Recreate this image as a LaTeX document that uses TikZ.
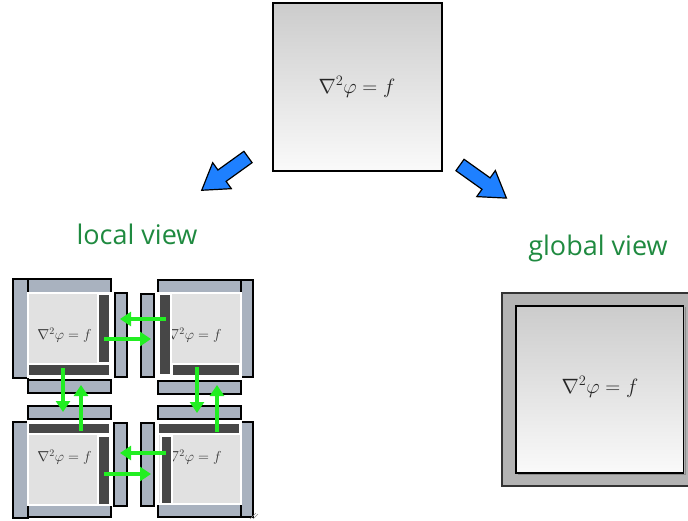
\documentclass[tikz,border=0pt]{standalone}
\usepackage{fontspec}
\setsansfont{Open Sans}
\usetikzlibrary{arrows.meta}
\definecolor{barblue}{HTML}{A9B2BF}
\definecolor{lightsq}{HTML}{E1E1E1}
\definecolor{darkbar}{HTML}{474747}
\definecolor{viewgreen}{HTML}{1F8A40}
\definecolor{arrowblue}{HTML}{1E80FF}
\definecolor{flowgreen}{HTML}{22EE22}
\definecolor{framegray}{HTML}{B3B3B3}
\tikzset{
  gbar/.style={fill=barblue, draw=black, line width=1.2pt},
  lsq/.style={fill=lightsq, draw=white, line width=1.2pt},
  dbar/.style={fill=darkbar, draw=white, line width=1.1pt},
  eqsmall/.style={inner sep=0pt, text=black!80, font=\fontsize{14.5}{16}\selectfont},
  eqbig/.style={inner sep=0pt, text=black!85, font=\fontsize{19.5}{22}\selectfont},
  viewlabel/.style={inner sep=0pt, text=viewgreen, font=\sffamily\fontsize{27}{31}\selectfont},
  flow/.style={draw=flowgreen, line width=3.4pt, -{Triangle[length=11pt,width=14pt]}},
  bigarrow/.style={fill=arrowblue, draw=black, line width=1.2pt, line join=miter},
  gradbox/.style={top color=black!20, bottom color=black!2, draw=black, line width=1.4pt}
}
\begin{document}
\begin{tikzpicture}[x=1pt,y=-1pt]
\useasboundingbox (0,0) rectangle (688,520);
\begin{scope}
\clip (0,0) rectangle (688,520);

% top box
\shade[gradbox] (273,3) rectangle (442,171);
\node[eqbig] (topeq) at (357,87) {$\nabla^2\varphi = f$};

% blue arrows
\path[bigarrow, shift={(248,157)}, rotate=215.7]
  (0,-7) -- (32,-7) -- (32,-16) -- (57,0) -- (32,16) -- (32,7) -- (0,7) -- cycle;
\path[bigarrow, shift={(460,165)}, rotate=-35.5]
  (0,-7) -- (32,-7) -- (32,-16) -- (57,0) -- (32,16) -- (32,7) -- (0,7) -- cycle;

% labels
\node[viewlabel] (loc) at (137,234) {local view};
\node[viewlabel] (glob) at (598,248) {global view};

% global view box
\draw[fill=framegray, draw=black!80, line width=1.2pt] (502,293) rectangle (700,486);
\draw[black!45, line width=1.2pt] (518,474.5) -- (685.5,474.5) -- (685.5,307);
\shade[gradbox] (516,306) rectangle (683.5,473);
\node[eqbig] (globeq) at (600,387) {$\nabla^2\varphi = f$};

% ---- block 1 (top-left)
\draw[gbar] (13,279) rectangle (28,378);
\draw[gbar] (28,279) rectangle (111,293);
\fill[lightsq] (28,293) rectangle (111,377);
\node[eqsmall] (eqa) at (64.5,335) {$\nabla^2\varphi = f$};
\draw[white, line width=1.2pt] (28,293) rectangle (111,377);
\draw[dbar] (98,294) rectangle (110,363);
\draw[dbar] (28.5,364) rectangle (110,376);
\draw[gbar] (115,293) rectangle (127,377);
\draw[gbar] (28,380) rectangle (111,393);

% ---- block 2 (top-right)
\draw[gbar] (158,280) rectangle (241,293);
\draw[gbar] (241,280) rectangle (253,377);
\fill[lightsq] (158,293) rectangle (241,377);
\node[eqsmall] (eqb) at (194.5,335) {$\nabla^2\varphi = f$};
\draw[white, line width=1.2pt] (158,293) rectangle (241,377);
\draw[dbar] (159,294) rectangle (171,375);
\draw[dbar] (172,364) rectangle (240,376);
\draw[gbar] (141,294) rectangle (154,377);
\draw[gbar] (158,381) rectangle (241,394);

% ---- block 3 (bottom-left)
\draw[gbar] (28,406) rectangle (111,419);
\draw[gbar] (13,422) rectangle (28,518);
\draw[gbar] (28,505) rectangle (111,517);
\fill[lightsq] (28,422) rectangle (111,505);
\node[eqsmall] (eqc) at (64.5,457) {$\nabla^2\varphi = f$};
\draw[white, line width=1.2pt] (28,422) rectangle (111,505);
\draw[dbar] (28.5,423) rectangle (110,434);
\draw[dbar] (98,436) rectangle (110,505);
\draw[gbar] (114,423) rectangle (127,506);

% ---- block 4 (bottom-right)
\draw[gbar] (158,406) rectangle (241,419);
\draw[gbar] (241,422) rectangle (253,517);
\draw[gbar] (158,504) rectangle (241,517);
\fill[lightsq] (158,422) rectangle (241,504);
\node[eqsmall] (eqd) at (194.5,457) {$\nabla^2\varphi = f$};
\draw[white, line width=1.2pt] (158,422) rectangle (241,504);
\draw[dbar] (158.5,423) rectangle (240,434);
\draw[dbar] (161,436) rectangle (172,504);
\draw[gbar] (141,423) rectangle (154,506);

% resize mark
\draw[black!45, line width=0.6pt] (250,519) -- (256,513) (253,519) -- (258,514);

% green flow arrows
\coordinate (a1s) at (166,319); \coordinate (a1e) at (120,319);
\coordinate (a2s) at (104,339); \coordinate (a2e) at (151,339);
\coordinate (a3s) at (63,368);  \coordinate (a3e) at (63,412);
\coordinate (a4s) at (81,431);  \coordinate (a4e) at (81,385);
\coordinate (a5s) at (197,367); \coordinate (a5e) at (197,413);
\coordinate (a6s) at (217,432); \coordinate (a6e) at (217,385);
\coordinate (a7s) at (166,453); \coordinate (a7e) at (120,453);
\coordinate (a8s) at (104,474); \coordinate (a8e) at (151,474);
\draw[flow] (a1s) -- (a1e);
\draw[flow] (a2s) -- (a2e);
\draw[flow] (a3s) -- (a3e);
\draw[flow] (a4s) -- (a4e);
\draw[flow] (a5s) -- (a5e);
\draw[flow] (a6s) -- (a6e);
\draw[flow] (a7s) -- (a7e);
\draw[flow] (a8s) -- (a8e);
\end{scope}
\end{tikzpicture}
\end{document}
